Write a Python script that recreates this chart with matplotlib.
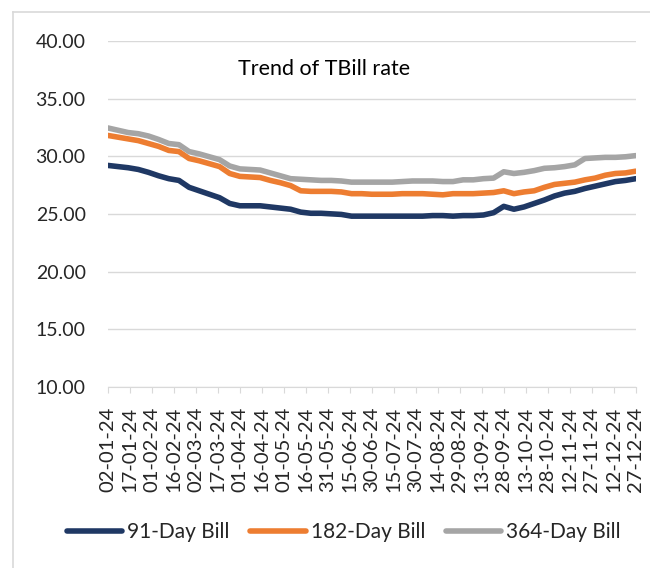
import numpy as np
import pandas as pd
import matplotlib
matplotlib.use("Agg")
import matplotlib.pyplot as plt
import matplotlib.dates as mdates
from matplotlib.lines import Line2D

plt.rcParams['font.family'] = ['Lato', 'DejaVu Sans']

# weekly auction dates (2024) and yields
dates = pd.date_range('2024-01-02', '2024-12-27', periods=53)

bill_91 = [29.2, 29.1, 29.0, 28.85, 28.6, 28.3, 28.05, 27.9, 27.3, 27.0,
           26.7, 26.4, 25.9, 25.7, 25.7, 25.7, 25.6, 25.5, 25.4, 25.15,
           25.05, 25.05, 25.0, 24.95, 24.8, 24.8, 24.8, 24.8, 24.8, 24.8,
           24.8, 24.8, 24.85, 24.85, 24.8, 24.85, 24.85, 24.9, 25.1, 25.65,
           25.4, 25.6, 25.9, 26.2, 26.55, 26.8, 26.95, 27.2, 27.4, 27.6,
           27.8, 27.9, 28.05]
bill_182 = [31.8, 31.65, 31.5, 31.35, 31.1, 30.85, 30.5, 30.4, 29.8, 29.6,
            29.35, 29.1, 28.5, 28.25, 28.2, 28.15, 27.9, 27.7, 27.45, 27.0,
            26.95, 26.95, 26.95, 26.9, 26.75, 26.75, 26.7, 26.7, 26.7, 26.75,
            26.75, 26.75, 26.7, 26.65, 26.75, 26.75, 26.75, 26.8, 26.85, 27.0,
            26.75, 26.9, 27.0, 27.3, 27.55, 27.65, 27.75, 27.95, 28.1, 28.35,
            28.5, 28.55, 28.7]
bill_364 = [32.45, 32.25, 32.05, 31.95, 31.75, 31.45, 31.1, 31.0, 30.4, 30.2,
            29.95, 29.7, 29.15, 28.9, 28.85, 28.8, 28.55, 28.3, 28.05, 28.0,
            27.95, 27.9, 27.9, 27.85, 27.75, 27.75, 27.75, 27.75, 27.75, 27.8,
            27.85, 27.85, 27.85, 27.8, 27.8, 27.95, 27.95, 28.05, 28.1, 28.65,
            28.5, 28.6, 28.75, 28.95, 29.0, 29.1, 29.25, 29.8, 29.85, 29.9,
            29.9, 29.95, 30.05]

series = [("91-Day Bill", bill_91, "#1F3864"),
          ("182-Day Bill", bill_182, "#ED7D31"),
          ("364-Day Bill", bill_364, "#A5A5A5")]

tick_dates = pd.date_range('2024-01-02', '2024-12-27', freq='15D')

fig = plt.figure(figsize=(6.5, 5.68), dpi=100)
ax = fig.add_axes([0.166, 0.319, 0.812, 0.609])

for name, vals, col in series:
    ax.plot(dates, vals, color=col, lw=4, label=name, solid_capstyle='round')

ax.set_ylim(10, 40)
ax.set_yticks(np.arange(10, 41, 5))
ax.yaxis.set_major_formatter(plt.FuncFormatter(lambda v, p: f"{v:.2f}"))
ax.set_xlim(dates[0], dates[-1])
ax.set_xticks(tick_dates)
ax.xaxis.set_major_formatter(mdates.DateFormatter('%d-%m-%y'))
plt.setp(ax.get_xticklabels(), rotation=90)

ax.grid(axis='y', color='#D9D9D9', lw=1)
ax.set_axisbelow(True)
for s in ['top', 'right', 'left']:
    ax.spines[s].set_visible(False)
ax.spines['bottom'].set_color('#D9D9D9')
ax.tick_params(axis='y', length=0, labelsize=14, labelcolor='#262626')
ax.yaxis.set_tick_params(pad=16)
ax.tick_params(axis='x', length=4.5, color='#D9D9D9', labelsize=14.5,
               labelcolor='#262626', pad=10)

ax.text(0.41, 0.92, "Trend of TBill rate", transform=ax.transAxes,
        ha='center', va='center', fontsize=15.5, color='black')

fig.legend(loc='center', bbox_to_anchor=(0.529, 0.063), ncol=3, frameon=False,
           fontsize=15, handlelength=2.65, handletextpad=0.25,
           columnspacing=1.0, labelcolor='#262626')

# chart area border (top and left visible)
fig.add_artist(Line2D([13/650, 13/650], [0, 1 - 12/568], color='#D9D9D9', lw=1.2))
fig.add_artist(Line2D([13/650, 1], [1 - 12/568, 1 - 12/568], color='#D9D9D9', lw=1.2))

fig.savefig("out.png", dpi=100)
